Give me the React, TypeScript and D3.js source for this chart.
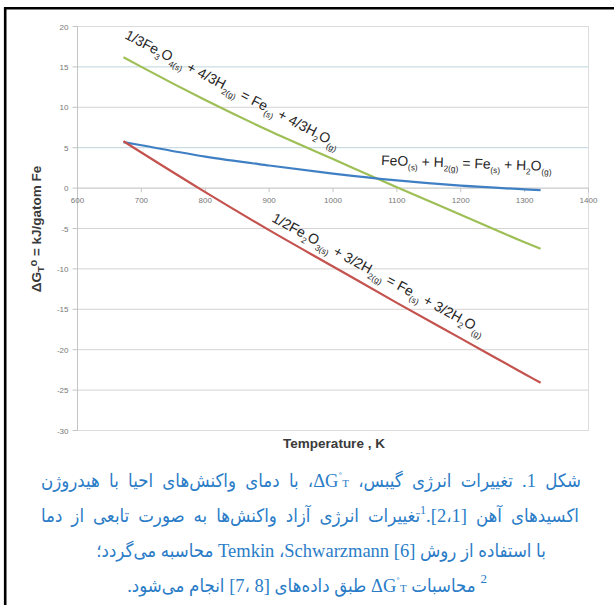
import React from "react";
import * as d3 from "d3";

const temps = [672, 700, 800, 900, 1000, 1100, 1200, 1300, 1325];
const feoVals = [5.7, 5.3, 3.9, 2.8, 1.8, 0.95, 0.3, -0.15, -0.25];
const fe3o4Vals = [16.2, 15.0, 10.9, 7.1, 3.6, 0.1, -3.3, -6.7, -7.5];
const fe2o3Vals = [5.8, 4.4, -0.5, -5.2, -9.7, -14.2, -18.6, -23.0, -24.1];

const xTicks = [600, 700, 800, 900, 1000, 1100, 1200, 1300, 1400];
const yTicks = [-30, -25, -20, -15, -10, -5, 0, 5, 10, 15, 20];

// label segments: [text, subscript?]
const fe3o4Label: [string, boolean][] = [
  ["1/3Fe", false], ["3", true], ["O", false], ["4(s)", true], [" + 4/3H", false], ["2(g)", true],
  [" = Fe", false], ["(s)", true], [" + 4/3H", false], ["2", true], ["O", false], ["(g)", true],
];
const feoLabel: [string, boolean][] = [
  ["FeO", false], ["(s)", true], [" + H", false], ["2(g)", true], [" = Fe", false], ["(s)", true],
  [" + H", false], ["2", true], ["O", false], ["(g)", true],
];
const fe2o3Label: [string, boolean][] = [
  ["1/2Fe", false], ["2", true], ["O", false], ["3(s)", true], [" + 3/2H", false], ["2(g)", true],
  [" = Fe", false], ["(s)", true], [" + 3/2H", false], ["2", true], ["O", false], ["(g)", true],
];

const yTitle = "ΔG";
const xTitle = "Temperature , K";

const W = 614;
const H = 605;

function Label({ segs, x, y, angle, size }: { segs: [string, boolean][]; x: number; y: number; angle: number; size: number }) {
  return (
    <text
      transform={`translate(${x},${y}) rotate(${angle})`}
      fontFamily="'Liberation Sans', Arial, sans-serif"
      fontSize={size}
      fill="#262626"
      style={{ whiteSpace: "pre" }}
    >
      {segs.map((s, i) => {
        const prevSub = i > 0 && segs[i - 1][1];
        let dy = 0;
        if (s[1] && !prevSub) dy = size * 0.3;
        if (!s[1] && prevSub) dy = -size * 0.3;
        return (
          <tspan key={i} dy={dy} fontSize={s[1] ? size * 0.6 : size}>
            {s[0]}
          </tspan>
        );
      })}
    </text>
  );
}

export default function App() {
  const x = d3.scaleLinear().domain([600, 1400]).range([77.5, 588.5]);
  const y = d3.scaleLinear().domain([-30, 20]).range([430.5, 26.5]);
  const line = d3
    .line<[number, number]>()
    .x((d) => x(d[0]))
    .y((d) => y(d[1]))
    .curve(d3.curveMonotoneX);
  const series = [
    { vals: fe3o4Vals, color: "#9dbf55" },
    { vals: feoVals, color: "#3f7fc3" },
    { vals: fe2o3Vals, color: "#c4524e" },
  ];
  const gridColor = (t: number) => (t === 0 ? "#bdbdbd" : t === 15 || t === 5 ? "#bcd4da" : "#d6d3d1");
  const capStyle: React.CSSProperties = {
    fontFamily: "'Liberation Serif', 'DejaVu Sans Condensed', 'DejaVu Sans', serif",
    fontStretch: "condensed",
    fontSize: "18.5px",
    color: "#2a7cc7",
    direction: "rtl",
    lineHeight: "30px",
  };
  const dg = (
    <span style={{ direction: "ltr", unicodeBidi: "isolate" }}>
      ΔG<span style={{ fontSize: "11px", position: "relative", top: "-7px" }}>˚</span>
      <span style={{ fontSize: "11px" }}>T</span>
    </span>
  );
  return (
    <svg width={W} height={H} style={{ position: "absolute", left: 0, top: 0, background: "#fff" }}>
      {/* frame */}
      <path d={`M5.2,${H} V8.2 H${W}`} fill="none" stroke="#000" strokeWidth={2.6} />
      {/* grid */}
      {yTicks.map((t) => (
        <line key={t} x1={x(600)} x2={x(1400)} y1={y(t)} y2={y(t)} stroke={gridColor(t)} strokeWidth={1} />
      ))}
      <rect x={x(600)} y={y(20)} width={x(1400) - x(600)} height={y(-30) - y(20)} fill="none" stroke="#dcdcdc" />
      <line x1={x(600)} x2={x(600)} y1={y(20)} y2={y(-30)} stroke="#c4c4c4" />
      {/* y ticks */}
      {yTicks.map((t) => (
        <g key={t}>
          <line x1={x(600) - 5} x2={x(600)} y1={y(t)} y2={y(t)} stroke="#c4c4c4" />
          <text x={x(600) - 9} y={y(t) + 3} textAnchor="end" fontFamily="'Liberation Sans', Arial, sans-serif" fontSize={8} fill="#777">
            {t}
          </text>
        </g>
      ))}
      {/* x ticks */}
      {xTicks.map((t) => (
        <g key={t}>
          <line x1={x(t)} x2={x(t)} y1={y(0)} y2={y(0) + 4} stroke="#c4c4c4" />
          <text x={x(t)} y={y(0) + 15} textAnchor="middle" fontFamily="'Liberation Sans', Arial, sans-serif" fontSize={8} fill="#777">
            {t}
          </text>
        </g>
      ))}
      {/* series */}
      {series.map((s, i) => (
        <path
          key={i}
          d={line(temps.map((t, j) => [t, s.vals[j]] as [number, number])) || ""}
          fill="none"
          stroke={s.color}
          strokeWidth={2.2}
        />
      ))}
      {/* labels */}
      <Label segs={fe3o4Label} x={124} y={38} angle={27.5} size={14} />
      <Label segs={feoLabel} x={381} y={165} angle={2} size={13.9} />
      <Label segs={fe2o3Label} x={271} y={221} angle={28.5} size={14} />
      {/* axis titles */}
      <text
        transform={`translate(41,229) rotate(-90)`}
        textAnchor="middle"
        fontFamily="'Liberation Sans', Arial, sans-serif"
        fontWeight="bold"
        fontSize={13.5}
        fill="#3a3a3a"
      >
        {yTitle}
        <tspan fontSize={9} dy={3}>T</tspan>
        <tspan fontSize={11} dy={-7}>o</tspan>
        <tspan dy={4}>{" = kJ/gatom Fe"}</tspan>
      </text>
      <text x={334} y={448} textAnchor="middle" fontFamily="'Liberation Sans', Arial, sans-serif" fontWeight="bold" fontSize={13.5} fill="#3a3a3a" style={{ whiteSpace: "pre" }}>
        {xTitle}
      </text>
      {/* caption */}
      <foreignObject x={41} y={466} width={540} height={32}>
        <div style={{ ...capStyle, textAlign: "justify", textAlignLast: "justify" }}>
          شکل 1. تغییرات انرژی گیبس، {dg}، با دمای واکنش‌های احیا با هیدروژن
        </div>
      </foreignObject>
      <foreignObject x={41} y={501} width={538} height={32}>
        <div style={{ ...capStyle, textAlign: "justify", textAlignLast: "justify" }}>
          اکسیدهای آهن [1،&#x200F;2].<span style={{ fontSize: "12px", position: "relative", top: "-8px" }}>1</span>تغییرات انرژی آزاد واکنش‌ها به صورت تابعی از دما
        </div>
      </foreignObject>
      <foreignObject x={21} y={536} width={600} height={32}>
        <div style={{ ...capStyle, textAlign: "center", whiteSpace: "nowrap" }}>
          با استفاده از روش Temkin ،Schwarzmann [6] محاسبه می‌گردد؛
        </div>
      </foreignObject>
      <foreignObject x={7} y={571} width={600} height={34}>
        <div style={{ ...capStyle, textAlign: "center", whiteSpace: "nowrap" }}>
          <span style={{ fontSize: "13px", position: "relative", top: "-9px" }}>2</span> محاسبات {dg} طبق داده‌های <span style={{ direction: "ltr", unicodeBidi: "isolate" }}>[7، 8]</span> انجام می‌شود.
        </div>
      </foreignObject>
    </svg>
  );
}
